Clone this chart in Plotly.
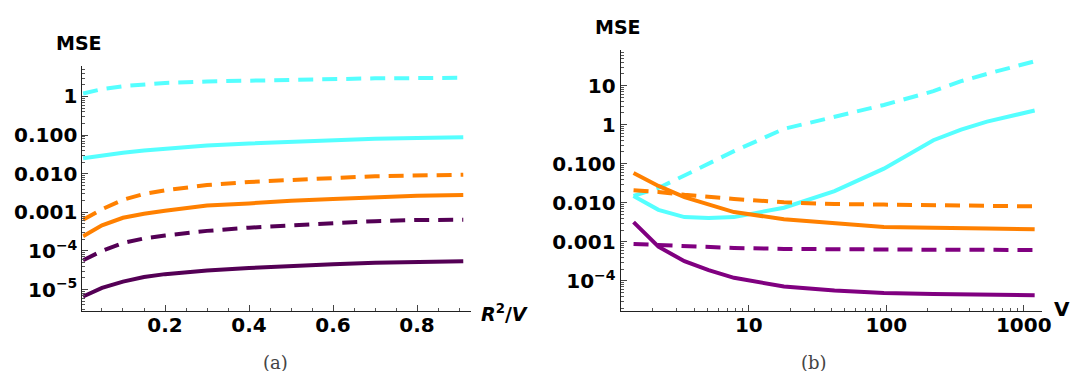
import plotly.graph_objects as go

# ---------------- Panel (a): MSE vs R^2/V ----------------
r2v = [0.005, 0.05, 0.1, 0.15, 0.2, 0.3, 0.4, 0.5, 0.6, 0.7, 0.8, 0.91]
a_cyan_dash   = [1.2, 1.55, 1.85, 2.1, 2.25, 2.45, 2.6, 2.75, 2.85, 2.95, 3.0, 3.05]
a_cyan_solid  = [0.025, 0.03, 0.035, 0.04, 0.045, 0.054, 0.061, 0.068, 0.074, 0.08, 0.084, 0.088]
a_orange_dash = [0.00064, 0.0012, 0.0021, 0.003, 0.0037, 0.0051, 0.0061, 0.007, 0.0077, 0.0086, 0.009, 0.0094]
a_orange_solid = [0.00024, 0.00046, 0.00072, 0.00092, 0.0011, 0.0015, 0.0017, 0.002, 0.0022, 0.0025, 0.0027, 0.0028]
a_purple_dash = [5.7e-5, 1.0e-4, 1.6e-4, 2.1e-4, 2.5e-4, 3.3e-4, 4.0e-4, 4.6e-4, 5.3e-4, 5.9e-4, 6.3e-4, 6.4e-4]
a_purple_solid = [6.6e-6, 1.1e-5, 1.6e-5, 2.1e-5, 2.5e-5, 3.1e-5, 3.6e-5, 4.1e-5, 4.5e-5, 4.9e-5, 5.2e-5, 5.4e-5]

# ---------------- Panel (b): MSE vs V ----------------
V = [1.45, 2.2, 3.4, 5.1, 7.8, 18, 42, 96, 220, 350, 540, 1200]
b_cyan_dash   = [0.015, 0.024, 0.05, 0.1, 0.21, 0.78, 1.6, 3.2, 7.2, 13, 20, 42]
b_cyan_solid  = [0.015, 0.0066, 0.0043, 0.0041, 0.0043, 0.0075, 0.02, 0.075, 0.4, 0.75, 1.2, 2.3]
b_orange_dash = [0.021, 0.019, 0.016, 0.014, 0.0125, 0.0103, 0.0093, 0.009, 0.0087, 0.0085, 0.0084, 0.0081]
b_orange_solid = [0.058, 0.027, 0.014, 0.009, 0.0058, 0.0038, 0.003, 0.0024, 0.0023, 0.0023, 0.0022, 0.0021]
b_purple_dash = [8.8e-4, 8.3e-4, 7.7e-4, 7.3e-4, 7.0e-4, 6.6e-4, 6.4e-4, 6.3e-4, 6.3e-4, 6.3e-4, 6.2e-4, 6.2e-4]
b_purple_solid = [0.0032, 7.5e-4, 3.2e-4, 1.9e-4, 1.2e-4, 7.2e-5, 5.7e-5, 4.9e-5, 4.6e-5, 4.5e-5, 4.5e-5, 4.3e-5]

# tick labels
a_yticks = [1e-5, 1e-4, 1e-3, 1e-2, 1e-1, 1]
a_yticktext = ["10<sup>\u22125</sup>", "10<sup>\u22124</sup>", "0.001", "0.010", "0.100", "1"]
a_xticks = [0.2, 0.4, 0.6, 0.8]
a_xticktext = ["0.2", "0.4", "0.6", "0.8"]
a_xminor = [0.05, 0.1, 0.15, 0.25, 0.3, 0.35, 0.45, 0.5, 0.55, 0.65, 0.7, 0.75, 0.85, 0.9]
b_yticks = [1e-4, 1e-3, 1e-2, 1e-1, 1, 10]
b_yticktext = ["10<sup>\u22124</sup>", "0.001", "0.010", "0.100", "1", "10"]
b_xticks = [10, 100, 1000]
b_xticktext = ["10", "100", "1000"]

CYAN = "#55FFFF"
ORANGE = "#FF8000"
DPURPLE = "#540055"
PURPLE = "#800080"
DASH = "15px,9px"
LW = 4

fig = go.Figure()

def add(x, y, color, dash, xa, ya):
    fig.add_trace(go.Scatter(x=x, y=y, mode="lines", xaxis=xa, yaxis=ya,
                             line=dict(color=color, width=LW, dash=dash),
                             showlegend=False, hoverinfo="skip"))

add(r2v, a_cyan_dash, CYAN, DASH, "x", "y")
add(r2v, a_cyan_solid, CYAN, "solid", "x", "y")
add(r2v, a_orange_dash, ORANGE, DASH, "x", "y")
add(r2v, a_orange_solid, ORANGE, "solid", "x", "y")
add(r2v, a_purple_dash, DPURPLE, DASH, "x", "y")
add(r2v, a_purple_solid, DPURPLE, "solid", "x", "y")

add(V, b_cyan_dash, CYAN, DASH, "x2", "y2")
add(V, b_cyan_solid, CYAN, "solid", "x2", "y2")
add(V, b_orange_dash, ORANGE, DASH, "x2", "y2")
add(V, b_orange_solid, ORANGE, "solid", "x2", "y2")
add(V, b_purple_dash, PURPLE, DASH, "x2", "y2")
add(V, b_purple_solid, PURPLE, "solid", "x2", "y2")

W, H = 1086, 371
SANS = "DejaVu Sans, Liberation Sans, Arial, sans-serif"
tickfont = dict(family=SANS, size=20, color="black", weight="bold")

def minor_log(lo, hi):
    vals = []
    for e in range(lo, hi + 1):
        for m in range(2, 10):
            vals.append(m * 10.0 ** e)
    return vals

minor_style = dict(ticks="inside", ticklen=3, tickcolor="#555", tickwidth=1)
axis_common = dict(showline=True, linecolor="#222", linewidth=1, ticks="inside",
                   tickcolor="#444", ticklen=6, tickwidth=1, showgrid=False,
                   zeroline=False, tickfont=tickfont, mirror=False)

fig.update_layout(
    width=W, height=H, margin=dict(l=0, r=0, t=0, b=0),
    paper_bgcolor="white", plot_bgcolor="white",
    xaxis=dict(domain=[75 / W, 466.7 / W], range=[0.0033, 0.928], anchor="y",
               tickmode="array", tickvals=a_xticks, ticktext=a_xticktext,
               ticklabelstandoff=-4,
               minor=dict(tickmode="array", tickvals=a_xminor, **minor_style),
               **axis_common),
    yaxis=dict(domain=[1 - 303 / H, 1 - 58 / H], type="log", range=[-5.557, 0.79], anchor="x",
               tickmode="array", tickvals=a_yticks, ticktext=a_yticktext,
               minor=dict(tickmode="array", tickvals=minor_log(-6, 0), **minor_style),
               **axis_common),
    xaxis2=dict(domain=[617.7 / W, 1042.7 / W], type="log", range=[0.067, 3.133], anchor="y2",
                tickmode="array", tickvals=b_xticks, ticktext=b_xticktext,
                ticklabelstandoff=-4,
                minor=dict(tickmode="array", tickvals=minor_log(0, 3), **minor_style),
                **axis_common),
    yaxis2=dict(domain=[1 - 303 / H, 1 - 41.7 / H], type="log", range=[-4.77, 1.92], anchor="x2",
                tickmode="array", tickvals=b_yticks, ticktext=b_yticktext,
                minor=dict(tickmode="array", tickvals=minor_log(-5, 1), **minor_style),
                **axis_common),
)

labfont = dict(family=SANS, size=19, color="black", weight="bold")
serif = dict(family="DejaVu Serif, Liberation Serif, serif", size=18, color="#444")

annots = [
    dict(x=72 / W, y=1 - 35 / H, text="MSE", font=labfont),
    dict(x=615 / W, y=1 - 19 / H, text="MSE", font=labfont),
    dict(x=501 / W, y=1 - 305 / H, text="<i>R</i><sup>2</sup>/<i>V</i>",
         font=dict(family=SANS, size=19, color="black", weight="bold")),
    dict(x=1063 / W, y=1 - 301 / H, text="V", font=dict(family=SANS, size=20, color="black", weight="bold")),
    dict(x=270 / W, y=1 - 354 / H, text="(a)", font=serif),
    dict(x=813 / W, y=1 - 354 / H, text="(b)", font=serif),
]
for a in annots:
    fig.add_annotation(xref="paper", yref="paper", showarrow=False,
                       xanchor="center", yanchor="middle", **a)

fig.write_html("out.html")
